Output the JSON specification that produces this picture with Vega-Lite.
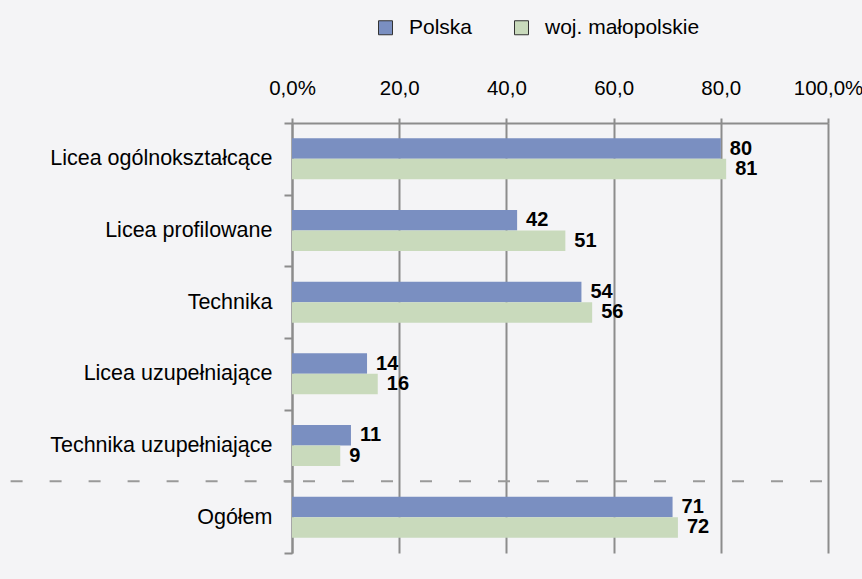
{
  "$schema": "https://vega.github.io/schema/vega-lite/v6.json",
  "width": 536,
  "height": 430,
  "autosize": "none",
  "padding": {"left": 292, "top": 123, "right": 34, "bottom": 26},
  "background": "#f4f4f6",
  "config": {"view": {"stroke": null}, "font": "Liberation Sans"},
  "data": {
    "values": [
      {"kategoria": "Licea ogólnokształcące", "seria": "Polska", "wartosc": 80},
      {"kategoria": "Licea ogólnokształcące", "seria": "woj. małopolskie", "wartosc": 81},
      {"kategoria": "Licea profilowane", "seria": "Polska", "wartosc": 42},
      {"kategoria": "Licea profilowane", "seria": "woj. małopolskie", "wartosc": 51},
      {"kategoria": "Technika", "seria": "Polska", "wartosc": 54},
      {"kategoria": "Technika", "seria": "woj. małopolskie", "wartosc": 56},
      {"kategoria": "Licea uzupełniające", "seria": "Polska", "wartosc": 14},
      {"kategoria": "Licea uzupełniające", "seria": "woj. małopolskie", "wartosc": 16},
      {"kategoria": "Technika uzupełniające", "seria": "Polska", "wartosc": 11},
      {"kategoria": "Technika uzupełniające", "seria": "woj. małopolskie", "wartosc": 9},
      {"kategoria": "Ogółem", "seria": "Polska", "wartosc": 71},
      {"kategoria": "Ogółem", "seria": "woj. małopolskie", "wartosc": 72}
    ]
  },
  "layer": [
    {
      "mark": {"type": "bar"},
      "encoding": {
        "y": {
          "field": "kategoria",
          "type": "nominal",
          "sort": null,
          "scale": {
            "domain": ["Licea ogólnokształcące", "Licea profilowane", "Technika", "Licea uzupełniające", "Technika uzupełniające", "Ogółem"],
            "paddingInner": 0,
            "paddingOuter": 0
          },
          "axis": {
            "title": null,
            "domainColor": "#8c8c8c",
            "domainWidth": 2,
            "tickColor": "#8c8c8c",
            "tickWidth": 2,
            "tickSize": 8,
            "tickBand": "extent",
            "labelFontSize": 21.5,
            "labelPadding": 12,
            "labelColor": "#000000",
            "labelLimit": 400
          }
        },
        "yOffset": {
          "field": "seria",
          "type": "nominal",
          "sort": ["Polska", "woj. małopolskie"],
          "scale": {"paddingInner": 0, "paddingOuter": 0.75}
        },
        "x": {
          "field": "wartosc",
          "type": "quantitative",
          "scale": {"domain": [0, 100], "nice": false},
          "axis": {
            "orient": "top",
            "title": null,
            "values": [0, 20, 40, 60, 80, 100],
            "labelExpr": "datum.value == 0 ? '0,0%' : datum.value == 100 ? '100,0%' : datum.value + ',0'",
            "grid": true,
            "gridColor": "#8c8c8c",
            "gridWidth": 2,
            "domainColor": "#8c8c8c",
            "domainWidth": 2,
            "tickColor": "#8c8c8c",
            "tickWidth": 2,
            "tickSize": 5,
            "labelPadding": 20,
            "labelFontSize": 20.5,
            "labelColor": "#000000",
            "labelBound": false,
            "labelFlush": false,
            "labelOverlap": false
          }
        },
        "color": {
          "field": "seria",
          "type": "nominal",
          "scale": {"domain": ["Polska", "woj. małopolskie"], "range": ["#7a8fc1", "#c9dabc"]},
          "legend": {
            "orient": "none",
            "legendX": 83,
            "legendY": -106,
            "direction": "horizontal",
            "title": null,
            "symbolType": "square",
            "symbolSize": 196,
            "symbolStrokeColor": "#333333",
            "symbolStrokeWidth": 1,
            "symbolOpacity": 1,
            "labelFontSize": 21,
            "labelColor": "#000000",
            "labelOffset": 13,
            "columnPadding": 38
          }
        }
      }
    },
    {
      "mark": {"type": "text", "align": "left", "baseline": "middle", "dx": 9, "fontWeight": "bold", "fontSize": 20, "color": "#000000"},
      "encoding": {
        "y": {"field": "kategoria", "type": "nominal", "sort": null},
        "yOffset": {"field": "seria", "type": "nominal", "sort": ["Polska", "woj. małopolskie"]},
        "x": {"field": "wartosc", "type": "quantitative"},
        "text": {"field": "wartosc", "type": "quantitative"}
      }
    },
    {
      "data": {"values": [{"kategoria": "Ogółem", "od": -52.5, "do": 0}]},
      "mark": {"type": "rule", "strokeDash": [12, 27], "color": "#999999", "strokeWidth": 2},
      "encoding": {
        "y": {"field": "kategoria", "type": "nominal", "sort": null, "bandPosition": 0},
        "x": {"field": "od", "type": "quantitative"},
        "x2": {"field": "do"}
      }
    },
    {
      "data": {"values": [{"kategoria": "Ogółem", "od": 0, "do": 100}]},
      "mark": {"type": "rule", "strokeDash": [12, 27], "strokeDashOffset": 28, "color": "#999999", "strokeWidth": 2},
      "encoding": {
        "y": {"field": "kategoria", "type": "nominal", "sort": null, "bandPosition": 0},
        "x": {"field": "od", "type": "quantitative"},
        "x2": {"field": "do"}
      }
    }
  ]
}
